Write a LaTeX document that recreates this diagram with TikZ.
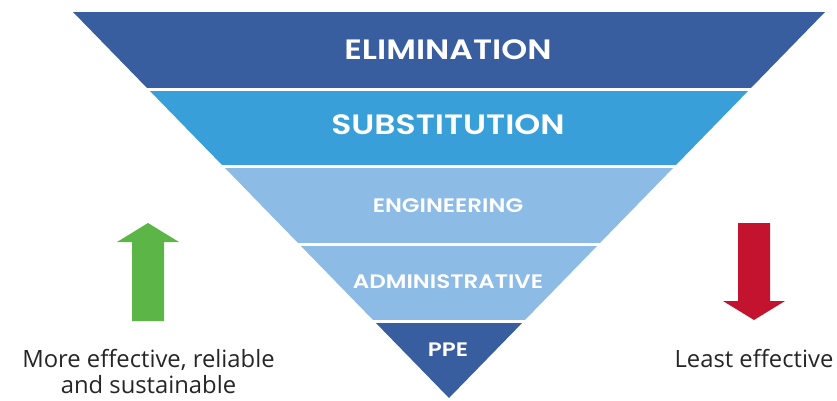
\documentclass[tikz,border=0pt]{standalone}
\usepackage{fontspec}
\setmainfont{Open Sans}
\newfontfamily\headfont{Poppins SemiBold}[FakeStretch=1.18]
\definecolor{topblue}{HTML}{385EA0}
\definecolor{midblue}{HTML}{389FD8}
\definecolor{lightblue}{HTML}{8CBBE6}
\definecolor{upgreen}{HTML}{5CB547}
\definecolor{downred}{HTML}{C3132F}
\begin{document}
\begin{tikzpicture}[x=1pt,y=-1pt,
  big label/.style={text=white,inner sep=0pt,anchor=base,
    font=\headfont\fontsize{28}{30}\selectfont},
  small label/.style={text=white,inner sep=0pt,anchor=base,
    font=\headfont\fontsize{19.5}{22}\selectfont},
  side label/.style={text=black!85,inner sep=0pt,anchor=base,align=center,
    font=\fontsize{23.8}{26}\selectfont}]
\useasboundingbox (0,0) rectangle (837,400);

% inverted pyramid, cut into five bands
\begin{scope}
  \clip (73,12) -- (825,12) -- (449,398) -- cycle;
  \fill[topblue]   (0,12)    rectangle (837,88);
  \fill[midblue]   (0,90.5)  rectangle (837,165);
  \fill[lightblue] (0,167.5) rectangle (837,243);
  \fill[lightblue] (0,245.5) rectangle (837,320);
  \fill[topblue]   (0,322.5) rectangle (837,400);
\end{scope}

\node[big label]   (elim)  at (448,59)    {ELIMINATION};
\node[big label]   (subst) at (448,134.3) {SUBSTITUTION};
\node[small label] (eng)   at (448,212)   {ENGINEERING};
\node[small label] (admin) at (448,288.7) {ADMINISTRATIVE};
\node[small label] (ppe)   at (448,356)   {PPE};

% direction arrows
\fill[upgreen] (148,223) -- (179,242) -- (164,242) -- (164,321)
  -- (132,321) -- (132,242) -- (117,242) -- cycle;
\fill[downred] (754,320) -- (785,301) -- (770,301) -- (770,223)
  -- (738,223) -- (738,301) -- (723,301) -- cycle;

% the base of a two-line node sits on its last line
\node[side label] (more)  at (148.5,393.3) {More effective, reliable\\and sustainable};
\node[side label] (least) at (754,367.3) {Least effective};
\end{tikzpicture}
\end{document}
